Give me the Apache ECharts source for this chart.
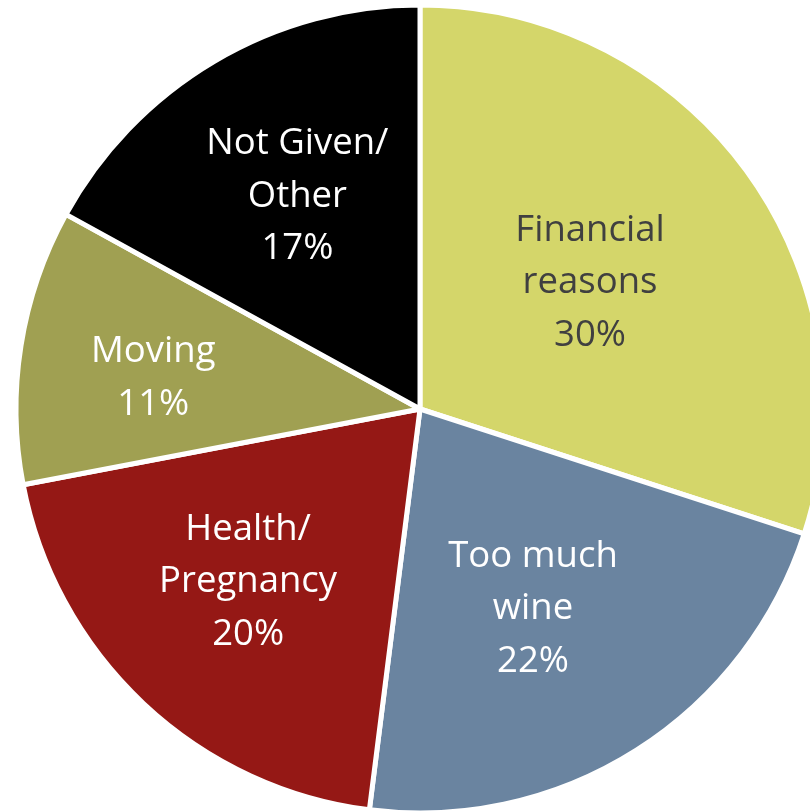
<!DOCTYPE html>
<html>
<head>
<meta charset="utf-8">
<script src="https://cdn.jsdelivr.net/npm/echarts@6/dist/echarts.min.js"></script>
<style>
  html, body { margin: 0; padding: 0; background: #fff; }
  #chart { width: 810px; height: 811px; }
</style>
</head>
<body>
<div id="chart"></div>
<script>
// Reasons given, clockwise from 12 o'clock
const categories = ['Financial\nreasons', 'Too much\nwine', 'Health/\nPregnancy', 'Moving', 'Not Given/\nOther'];
const shares = [30, 22, 20, 11, 17];

const colors = ['#D4D66A', '#6A84A0', '#951815', '#A0A052', '#000000'];
const labelColors = ['#404040', '#ffffff', '#ffffff', '#ffffff', '#ffffff'];
// label anchor for each slice: angle clockwise from 12 o'clock (deg), distance from centre (px)
const labelAngle = [52.6, 150, 225.5, 277.4, 330.5];
const labelDist = [214, 226, 241, 269, 249];

const cx = 420, cy = 409, R = 404;
const textShiftY = 4;

const chart = echarts.init(document.getElementById('chart'));

chart.setOption({
  animation: false,
  series: [{
    type: 'pie',
    center: [cx, cy],
    radius: [0, R],
    startAngle: 90,
    clockwise: true,
    itemStyle: { borderColor: '#ffffff', borderWidth: 5 },
    label: {
      show: true,
      position: 'inside',
      fontFamily: '"Open Sans", Lato, sans-serif',
      fontSize: 36.5,
      lineHeight: 52.5,
      align: 'center',
      formatter: p => p.name + '\n' + p.value + '%'
    },
    labelLine: { show: false },
    labelLayout: function (params) {
      const i = params.dataIndex;
      const a = labelAngle[i] * Math.PI / 180;
      const r = labelDist[i];
      return { x: cx + r * Math.sin(a), y: cy - r * Math.cos(a) + textShiftY };
    },
    data: categories.map((name, i) => ({
      name: name,
      value: shares[i],
      itemStyle: { color: colors[i] },
      label: { color: labelColors[i] }
    }))
  }]
});
</script>
</body>
</html>
